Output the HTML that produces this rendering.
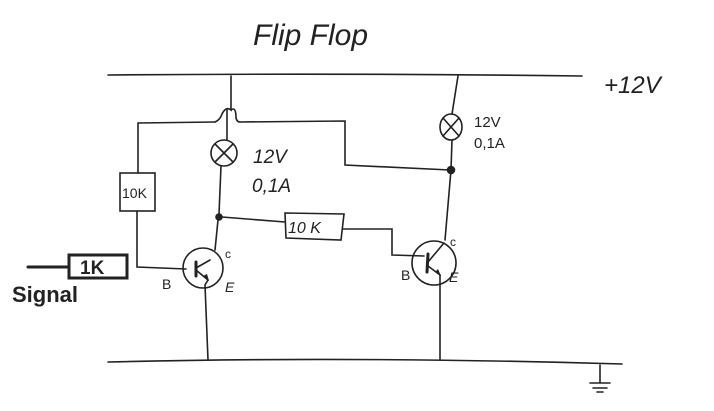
<!DOCTYPE html>
<html><head><style>
html,body{margin:0;padding:0;background:#fff;}
svg{display:block;}
text{font-family:"Liberation Sans",sans-serif;fill:#222;}
</style></head><body>
<svg width="714" height="411" viewBox="0 0 714 411" xmlns="http://www.w3.org/2000/svg">
<g fill="none" stroke="#222" stroke-width="1.6" stroke-linecap="round">
<!-- rails -->
<path d="M108 75 Q350 73 582 76"/>
<path d="M108 362 Q350 356 622 364"/>
<!-- ground -->
<path d="M600 365 V383 M590 383 H610 M593 388 H607 M597 392 H603"/>
<!-- left column -->
<path d="M231 76 V110 Q226 106 222 114 Q220 120 215 122"/>
<path d="M231 110 Q236 106 236 118 Q237 122 240 122"/>
<path d="M138 123 L215 122 M240 122 L345 121 V165 L450 170"/>
<path d="M227 110 V140"/>
<circle cx="224" cy="153" r="13"/>
<path d="M215 144 L233 162 M233 144 L215 162"/>
<path d="M221 166 L219 214"/>
<circle cx="219" cy="217" r="3" fill="#222"/>
<path d="M218 220 L215 250"/>
<!-- left 10K vertical -->
<path d="M138 123 V173"/>
<rect x="120" y="173" width="35" height="38"/>
<path d="M137 211 V267 L186 269"/>
<!-- left transistor -->
<circle cx="203" cy="268" r="20"/>
<path d="M196 262 L196 276" stroke-width="3"/>
<path d="M196 268 L210 260 M196 270 L208 280"/>
<path d="M208 280 L205 285 L208 360"/>
<!-- middle 10K -->
<path d="M222 217 L285 222"/>
<path d="M285 213 L344 214 L341 240 L286 238 Z"/>
<path d="M343 229 L392 229 V255 L424 256"/>
<!-- right column -->
<path d="M458 76 L452 114"/>
<ellipse cx="451" cy="127" rx="11" ry="13"/>
<path d="M443 118 L459 136 M459 118 L443 136"/>
<path d="M452 140 L451 170 L445 240"/>
<circle cx="451" cy="170" r="3.5" fill="#222"/>
<!-- right transistor -->
<circle cx="434" cy="263" r="22"/>
<path d="M428 254 L427 272" stroke-width="3"/>
<path d="M428 262 L444 243 M428 266 L440 275"/>
<path d="M440 275 L440 360"/>
<!-- signal -->
<path d="M28 267 H68" stroke-width="3"/>
<rect x="69" y="255" width="58" height="23" stroke-width="3"/>
</g>
<path d="M209 281 L203 276 L207 274 Z" fill="#222"/>
<path d="M441 276 L435 272 L438 269 Z" fill="#222"/>
<text x="253" y="45" font-size="30" font-style="italic" fill="#333">Flip Flop</text>
<text x="604" y="93" font-size="24" font-style="italic">+12V</text>
<text x="253" y="163" font-size="19" font-style="italic">12V</text>
<text x="252" y="192" font-size="19" font-style="italic">0,1A</text>
<text x="474" y="127" font-size="15">12V</text>
<text x="474" y="148" font-size="15">0,1A</text>
<text x="122" y="198" font-size="14">10K</text>
<text x="288" y="233" font-size="16" font-style="italic">10 K</text>
<text x="80" y="274" font-size="19" font-weight="bold">1K</text>
<text x="12" y="302" font-size="22" font-weight="bold">Signal</text>
<text x="225" y="258" font-size="12">c</text>
<text x="162" y="289" font-size="14">B</text>
<text x="225" y="292" font-size="14" font-style="italic">E</text>
<text x="450" y="246" font-size="12">c</text>
<text x="401" y="280" font-size="14">B</text>
<text x="449" y="282" font-size="14" font-style="italic">E</text>
</svg>
</body></html>
